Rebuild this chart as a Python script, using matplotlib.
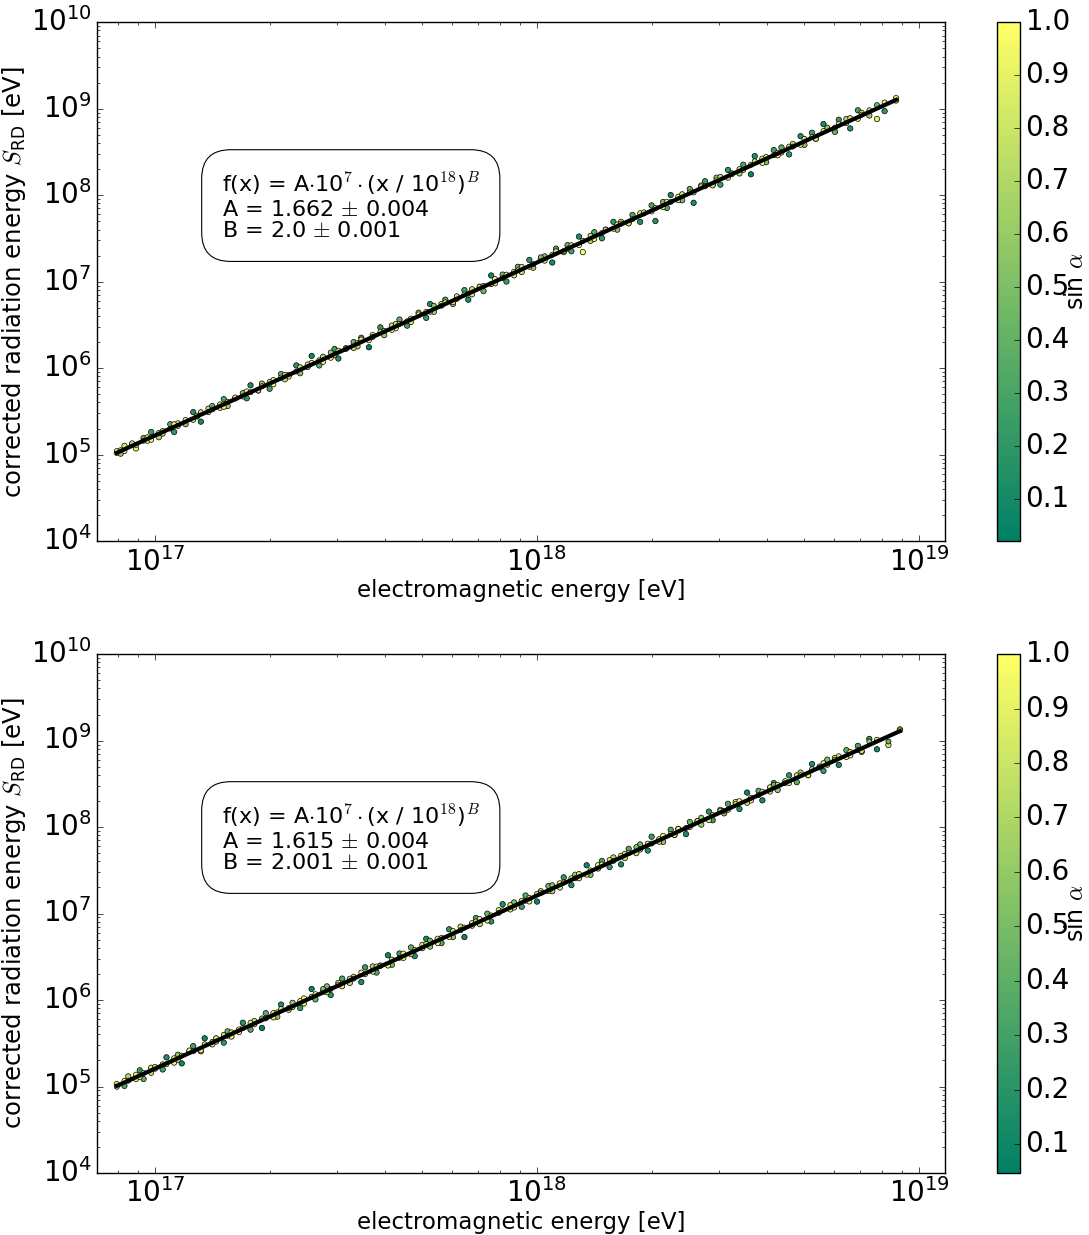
import numpy as np
import matplotlib
matplotlib.use("Agg")
import matplotlib.pyplot as plt

plt.style.use("classic")
plt.rcParams["figure.facecolor"] = "white"
plt.rcParams["savefig.facecolor"] = "white"
plt.rcParams["font.family"] = "DejaVu Sans"

# fit parameters shown in the boxes
fit_A = [1.662, 1.615]
fit_A_err = [0.004, 0.004]
fit_B = [2.0, 2.001]
fit_B_err = [0.001, 0.001]
fit_B_txt = ["2.0", "2.001"]

# top panel: log10(electromagnetic energy), residual to fit in dex, sin(alpha)
logE_top = [
    16.90, 16.91, 16.92, 16.94, 16.95, 16.97, 16.98, 16.99, 17.01, 17.02,
    17.04, 17.05, 17.06, 17.08, 17.10, 17.11, 17.12, 17.14, 17.15, 17.17,
    17.18, 17.19, 17.21, 17.23, 17.24, 17.25, 17.27, 17.28, 17.30, 17.31,
    17.33, 17.34, 17.35, 17.37, 17.38, 17.40, 17.41, 17.43, 17.44, 17.46,
    17.47, 17.48, 17.50, 17.52, 17.53, 17.54, 17.56, 17.57, 17.59, 17.60,
    17.62, 17.63, 17.64, 17.66, 17.67, 17.69, 17.71, 17.72, 17.73, 17.75,
    17.76, 17.78, 17.79, 17.81, 17.82, 17.83, 17.85, 17.86, 17.88, 17.89,
    17.91, 17.92, 17.94, 17.95, 17.96, 17.98, 17.99, 18.01, 18.02, 18.04,
    18.05, 18.07, 18.08, 18.09, 18.11, 18.12, 18.14, 18.15, 18.17, 18.18,
    18.20, 18.21, 18.22, 18.24, 18.25, 18.27, 18.28, 18.30, 18.31, 18.33,
    18.34, 18.35, 18.37, 18.38, 18.40, 18.41, 18.43, 18.44, 18.46, 18.47,
    18.48, 18.50, 18.51, 18.53, 18.54, 18.56, 18.57, 18.59, 18.60, 18.62,
    18.63, 18.64, 18.66, 18.67, 18.69, 18.70, 18.72, 18.73, 18.75, 18.76,
    18.78, 18.79, 18.81, 18.82, 18.84, 18.85, 18.87, 18.89, 18.91, 18.94,
]
# wider-scattered events
resid_top = [
    0.00, -0.03, 0.04, 0.02, -0.05, 0.03, -0.02, 0.06, -0.04, 0.01,
    0.05, -0.06, 0.02, -0.03, 0.07, 0.00, -0.08, 0.03, 0.04, -0.02,
    0.06, -0.04, 0.01, 0.03, -0.05, 0.08, -0.02, 0.04, -0.06, 0.02,
    0.05, -0.03, 0.00, 0.07, -0.04, 0.02, 0.10, -0.05, 0.03, -0.02,
    0.06, -0.07, 0.01, 0.04, -0.03, 0.05, -0.10, 0.02, 0.07, -0.04,
    0.03, -0.02, 0.06, -0.05, 0.01, 0.04, -0.06, 0.08, -0.03, 0.02,
    0.05, -0.04, 0.00, 0.06, -0.07, 0.03, 0.02, -0.05, 0.09, -0.02,
    0.04, -0.06, 0.01, 0.05, -0.03, 0.07, -0.04, 0.02, 0.03, -0.08,
    0.06, -0.02, 0.04, -0.05, 0.08, -0.12, -0.03, 0.05, -0.06, 0.02,
    0.07, -0.04, 0.03, -0.02, 0.05, -0.07, 0.01, 0.06, -0.14, 0.04,
    -0.05, 0.08, 0.02, -0.04, 0.05, -0.13, 0.03, 0.06, -0.02, 0.04,
    -0.06, 0.07, 0.01, -0.03, 0.05, -0.10, 0.09, 0.02, -0.04, 0.06,
    -0.02, 0.05, -0.07, 0.03, 0.08, -0.04, 0.06, -0.03, 0.10, 0.02,
    -0.05, 0.07, 0.04, -0.09, 0.08, 0.03, -0.04, -0.12, -0.07, 0.02,
]
sina_top = [
    0.95, 0.60, 0.85, 0.30, 0.90, 0.45, 0.98, 0.25, 0.70, 0.88,
    0.35, 0.20, 0.92, 0.55, 0.15, 0.99, 0.10, 0.75, 0.40, 0.93,
    0.30, 0.65, 0.97, 0.50, 0.22, 0.12, 0.85, 0.60, 0.28, 0.95,
    0.40, 0.80, 0.99, 0.18, 0.55, 0.90, 0.08, 0.35, 0.70, 0.96,
    0.25, 0.15, 0.94, 0.45, 0.75, 0.30, 0.02, 0.88, 0.20, 0.60,
    0.82, 0.97, 0.38, 0.28, 0.99, 0.50, 0.22, 0.12, 0.72, 0.91,
    0.33, 0.58, 0.96, 0.26, 0.14, 0.80, 0.93, 0.42, 0.09, 0.87,
    0.48, 0.24, 0.98, 0.36, 0.78, 0.17, 0.62, 0.95, 0.52, 0.11,
    0.30, 0.90, 0.44, 0.27, 0.13, 0.97, 0.74, 0.35, 0.21, 0.89,
    0.19, 0.56, 0.84, 0.94, 0.32, 0.16, 0.99, 0.29, 0.15, 0.46,
    0.34, 0.10, 0.92, 0.50, 0.40, 0.12, 0.86, 0.25, 0.96, 0.60,
    0.23, 0.18, 0.97, 0.66, 0.31, 0.08, 0.14, 0.88, 0.52, 0.27,
    0.91, 0.38, 0.20, 0.79, 0.15, 0.55, 0.28, 0.83, 0.11, 0.98,
    0.42, 0.22, 0.70, 0.16, 0.26, 0.93, 0.60, 0.90, 0.19, 0.95,
]
# events close to the fit line
resid_top2 = [
    0.02, 0.01, -0.02, 0.03, -0.01, 0.00, 0.02, -0.03, 0.01, -0.02,
    0.00, 0.03, -0.01, 0.02, -0.02, 0.01, 0.03, -0.01, 0.00, 0.02,
    -0.03, 0.01, 0.02, -0.01, 0.03, 0.00, -0.02, 0.01, 0.02, -0.03,
    0.01, 0.02, -0.02, 0.00, 0.03, -0.01, 0.02, 0.01, -0.03, 0.04,
    -0.01, 0.02, 0.00, -0.03, 0.01, 0.03, -0.02, 0.00, 0.02, 0.01,
    -0.02, 0.03, 0.01, 0.00, -0.03, 0.02, 0.01, -0.01, 0.04, 0.00,
    0.02, -0.02, 0.03, 0.01, 0.00, -0.03, 0.02, 0.01, -0.01, 0.03,
    0.00, 0.02, -0.03, 0.01, 0.03, -0.01, 0.00, 0.04, -0.02, 0.01,
    0.03, -0.01, 0.00, 0.02, -0.02, 0.01, 0.03, -0.03, 0.00, 0.02,
    -0.01, 0.02, 0.01, -0.03, 0.00, 0.03, 0.02, -0.01, 0.01, -0.02,
    0.02, 0.00, -0.02, 0.03, 0.01, -0.01, 0.02, 0.00, -0.03, 0.01,
    0.03, -0.02, 0.00, 0.02, -0.01, 0.01, 0.03, -0.03, 0.02, 0.00,
    0.01, -0.01, 0.02, 0.00, -0.02, 0.03, 0.01, -0.03, 0.02, 0.04,
    0.00, 0.02, -0.01, 0.03, -0.02, 0.01, 0.02, 0.04, 0.03, -0.01,
]
sina_top2 = [
    0.97, 0.88, 0.93, 0.80, 0.99, 0.91, 0.85, 0.95, 1.00, 0.78,
    0.90, 0.96, 0.82, 0.99, 0.87, 0.93, 0.76, 0.98, 0.92, 0.84,
    0.95, 0.89, 0.99, 0.81, 0.94, 0.97, 0.86, 0.91, 0.79, 0.98,
    0.92, 0.85, 0.96, 0.99, 0.83, 0.90, 0.97, 0.88, 0.94, 0.60,
    0.99, 0.87, 0.93, 0.80, 0.96, 0.91, 0.98, 0.84, 0.95, 0.89,
    0.94, 0.82, 0.99, 0.90, 0.86, 0.97, 0.92, 0.78, 0.55, 0.96,
    0.88, 0.99, 0.83, 0.95, 0.91, 0.87, 0.98, 0.93, 0.80, 0.97,
    0.96, 0.90, 0.85, 0.99, 0.82, 0.94, 0.98, 0.50, 0.89, 0.92,
    0.84, 0.97, 0.93, 0.88, 0.99, 0.91, 0.79, 0.95, 0.98, 0.86,
    0.99, 0.89, 0.94, 0.81, 0.97, 0.85, 0.92, 0.98, 0.90, 0.87,
    0.93, 0.98, 0.86, 0.80, 0.96, 0.99, 0.88, 0.94, 0.83, 0.97,
    0.79, 0.91, 0.99, 0.87, 0.95, 0.92, 0.84, 0.97, 0.89, 0.98,
    0.96, 0.85, 0.93, 0.99, 0.88, 0.81, 0.97, 0.90, 0.94, 0.58,
    0.99, 0.92, 0.87, 0.83, 0.96, 0.94, 0.89, 0.45, 0.98, 0.91,
]

# bottom panel
logE_bot = [
    16.90, 16.92, 16.93, 16.95, 16.96, 16.97, 16.99, 17.00, 17.02, 17.03,
    17.05, 17.06, 17.07, 17.09, 17.10, 17.12, 17.13, 17.15, 17.16, 17.18,
    17.19, 17.20, 17.22, 17.23, 17.25, 17.26, 17.28, 17.29, 17.31, 17.32,
    17.33, 17.35, 17.36, 17.38, 17.39, 17.41, 17.42, 17.44, 17.45, 17.46,
    17.48, 17.49, 17.51, 17.52, 17.54, 17.55, 17.57, 17.58, 17.59, 17.61,
    17.62, 17.64, 17.65, 17.67, 17.68, 17.70, 17.71, 17.72, 17.74, 17.75,
    17.77, 17.78, 17.80, 17.81, 17.83, 17.84, 17.85, 17.87, 17.88, 17.90,
    17.91, 17.93, 17.94, 17.96, 17.97, 17.98, 18.00, 18.01, 18.03, 18.04,
    18.06, 18.07, 18.09, 18.10, 18.11, 18.13, 18.14, 18.16, 18.17, 18.19,
    18.20, 18.22, 18.23, 18.24, 18.26, 18.27, 18.29, 18.30, 18.32, 18.33,
    18.35, 18.36, 18.37, 18.39, 18.40, 18.42, 18.43, 18.45, 18.46, 18.48,
    18.49, 18.50, 18.52, 18.53, 18.55, 18.56, 18.58, 18.59, 18.61, 18.62,
    18.63, 18.65, 18.66, 18.68, 18.69, 18.71, 18.72, 18.74, 18.75, 18.76,
    18.78, 18.79, 18.81, 18.82, 18.84, 18.85, 18.87, 18.89, 18.92, 18.95,
]
resid_bot = [
    0.02, -0.04, 0.05, -0.02, 0.06, -0.06, 0.03, 0.00, -0.05, 0.07,
    -0.03, 0.04, -0.08, 0.02, 0.06, -0.04, 0.09, -0.02, 0.03, -0.06,
    0.05, -0.03, 0.01, 0.07, -0.05, 0.03, -0.09, 0.06, 0.02, -0.04,
    0.08, -0.02, 0.04, -0.06, 0.03, 0.10, -0.04, 0.01, 0.05, -0.07,
    0.03, 0.06, -0.03, 0.02, -0.08, 0.07, 0.04, -0.05, 0.01, 0.09,
    -0.04, 0.05, -0.02, 0.06, -0.06, 0.03, 0.08, -0.03, 0.02, -0.05,
    0.07, -0.04, 0.04, -0.10, 0.02, 0.06, -0.03, 0.05, -0.06, 0.03,
    0.08, -0.02, 0.04, -0.05, 0.06, 0.01, -0.07, 0.03, 0.05, -0.03,
    0.02, 0.07, -0.06, 0.04, -0.02, 0.09, -0.04, 0.03, 0.06, -0.05,
    0.04, -0.08, 0.02, 0.06, -0.03, 0.05, -0.06, 0.08, 0.01, -0.04,
    0.06, -0.02, 0.03, -0.07, 0.05, 0.02, -0.04, 0.07, -0.05, 0.03,
    -0.03, 0.06, 0.04, -0.06, 0.09, -0.02, 0.05, -0.08, 0.03, 0.06,
    -0.04, 0.02, 0.07, -0.05, 0.04, -0.03, 0.08, 0.01, -0.06, 0.05,
    0.03, -0.07, 0.06, -0.02, 0.05, -0.04, 0.07, -0.09, -0.10, 0.02,
]
sina_bot = [
    0.90, 0.35, 0.70, 0.96, 0.25, 0.40, 0.85, 0.99, 0.30, 0.18,
    0.93, 0.55, 0.12, 0.88, 0.28, 0.62, 0.10, 0.97, 0.78, 0.22,
    0.45, 0.92, 0.99, 0.20, 0.33, 0.80, 0.047, 0.38, 0.94, 0.58,
    0.15, 0.87, 0.60, 0.26, 0.95, 0.08, 0.42, 0.98, 0.50, 0.20,
    0.91, 0.32, 0.74, 0.97, 0.14, 0.24, 0.68, 0.36, 0.99, 0.11,
    0.48, 0.29, 0.95, 0.40, 0.17, 0.86, 0.13, 0.63, 0.92, 0.34,
    0.21, 0.57, 0.82, 0.09, 0.96, 0.30, 0.76, 0.44, 0.19, 0.89,
    0.16, 0.93, 0.52, 0.27, 0.38, 0.99, 0.12, 0.84, 0.46, 0.70,
    0.97, 0.23, 0.15, 0.66, 0.90, 0.10, 0.54, 0.94, 0.31, 0.25,
    0.72, 0.14, 0.98, 0.36, 0.81, 0.47, 0.18, 0.26, 0.95, 0.59,
    0.33, 0.91, 0.77, 0.13, 0.42, 0.96, 0.64, 0.20, 0.28, 0.87,
    0.55, 0.35, 0.90, 0.17, 0.09, 0.99, 0.43, 0.12, 0.83, 0.30,
    0.61, 0.94, 0.22, 0.37, 0.75, 0.88, 0.16, 0.98, 0.25, 0.50,
    0.93, 0.14, 0.40, 0.97, 0.29, 0.68, 0.21, 0.11, 0.85, 0.99,
]
resid_bot2 = [
    -0.01, 0.02, 0.00, 0.03, -0.02, 0.01, -0.03, 0.02, 0.01, -0.01,
    0.02, -0.02, 0.01, 0.03, 0.00, -0.03, 0.02, 0.01, -0.01, 0.03,
    0.00, 0.02, -0.02, 0.01, 0.03, -0.01, 0.02, 0.00, -0.03, 0.01,
    0.03, 0.00, -0.01, 0.02, -0.03, 0.01, 0.02, 0.04, -0.02, 0.00,
    0.01, -0.03, 0.02, 0.00, 0.03, -0.01, -0.02, 0.02, 0.01, -0.03,
    0.02, 0.00, 0.03, -0.02, 0.01, -0.01, 0.02, 0.04, -0.03, 0.01,
    -0.02, 0.03, 0.00, 0.01, -0.01, 0.02, 0.03, -0.03, 0.01, 0.00,
    0.01, 0.03, -0.02, 0.02, 0.00, -0.03, 0.02, 0.01, -0.01, 0.04,
    -0.03, 0.01, 0.02, 0.00, 0.03, -0.02, 0.01, -0.01, 0.02, 0.03,
    0.00, 0.02, -0.03, 0.01, 0.04, -0.01, 0.02, 0.00, -0.02, 0.03,
    0.01, -0.02, 0.03, 0.00, -0.01, 0.02, 0.04, -0.03, 0.01, 0.02,
    0.00, -0.01, 0.02, 0.03, -0.03, 0.01, 0.00, 0.02, -0.02, 0.04,
    0.02, 0.00, -0.02, 0.03, 0.01, -0.03, 0.02, 0.00, 0.03, -0.01,
    0.01, 0.03, -0.02, 0.02, 0.00, -0.03, 0.04, 0.02, -0.06, 0.01,
]
sina_bot2 = [
    0.91, 0.98, 0.84, 0.95, 0.89, 0.99, 0.82, 0.93, 0.97, 0.87,
    0.96, 0.80, 0.92, 0.99, 0.86, 0.94, 0.90, 0.77, 0.98, 0.85,
    0.99, 0.88, 0.95, 0.83, 0.91, 0.97, 0.60, 0.94, 0.89, 1.00,
    0.82, 0.96, 0.90, 0.99, 0.87, 0.93, 0.98, 0.52, 0.85, 0.95,
    0.97, 0.89, 0.81, 0.94, 0.99, 0.86, 0.92, 0.96, 0.84, 0.90,
    0.88, 0.99, 0.93, 0.80, 0.97, 0.91, 0.85, 0.48, 0.95, 0.98,
    0.92, 0.84, 0.99, 0.89, 0.96, 0.83, 0.94, 0.90, 0.98, 0.87,
    0.99, 0.86, 0.91, 0.97, 0.81, 0.93, 0.88, 0.95, 0.99, 0.57,
    0.85, 0.98, 0.90, 0.94, 0.87, 0.92, 0.99, 0.83, 0.96, 0.89,
    0.97, 0.91, 0.82, 0.99, 0.55, 0.88, 0.95, 0.93, 0.86, 0.98,
    0.90, 0.94, 0.99, 0.85, 0.97, 0.89, 0.62, 0.92, 0.98, 0.84,
    0.96, 0.88, 0.93, 0.99, 0.81, 0.95, 0.90, 0.97, 0.86, 0.50,
    0.89, 0.99, 0.94, 0.87, 0.92, 0.96, 0.83, 0.98, 0.91, 0.88,
    0.95, 0.86, 0.99, 0.90, 0.97, 0.84, 0.60, 0.93, 0.42, 0.98,
]

panels = [
    (logE_top, resid_top, sina_top, resid_top2, sina_top2),
    (logE_bot, resid_bot, sina_bot, resid_bot2, sina_bot2),
]
ax_bottoms = [0.5619, 0.0502]

fig = plt.figure(figsize=(10.89, 12.35), dpi=100)

for i, (logE, resid, sina, resid2, sina2) in enumerate(panels):
    ax = fig.add_axes([0.0891, ax_bottoms[i], 0.7787, 0.4202])
    cax = fig.add_axes([0.9155, ax_bottoms[i], 0.0211, 0.4202])

    A, B = fit_A[i], fit_B[i]
    e_em = 10 ** np.array(logE)
    fit = A * 1e7 * (e_em / 1e18) ** B
    vmin = min(min(sina), min(sina2))
    vmax = max(max(sina), max(sina2))

    sc = ax.scatter(e_em, fit * 10 ** np.array(resid), c=sina, cmap="summer",
                    vmin=vmin, vmax=vmax, s=15, edgecolors="k",
                    linewidths=0.5, zorder=2)
    ax.scatter(e_em, fit * 10 ** np.array(resid2), c=sina2, cmap="summer",
               vmin=vmin, vmax=vmax, s=13, edgecolors="k",
               linewidths=0.5, zorder=2)
    ax.plot(e_em, fit, "k-", lw=3, zorder=3)

    ax.set_xscale("log")
    ax.set_yscale("log")
    ax.set_xlim(7.05e16, 1.17e19)
    ax.set_ylim(1e4, 1e10)
    ax.tick_params(labelsize=20, which="both", direction="in")
    ax.set_xlabel("electromagnetic energy [eV]", fontsize=16.5, labelpad=2)
    ax.set_ylabel(r"corrected radiation energy $S_{\mathdefault{RD}}$ [eV]",
                  fontsize=17.5, labelpad=2)

    txt = ("f(x) = A$\\cdot$10$^7\\cdot$(x / 10$^{18}$)$^B$\n"
           "A = %.3f $\\pm$ %.3f\nB = %s $\\pm$ %.3f"
           % (A, fit_A_err[i], fit_B_txt[i], fit_B_err[i]))
    ax.text(0.147, 0.645, txt, transform=ax.transAxes, fontsize=16,
            va="center", ha="left", linespacing=1.1,
            bbox=dict(boxstyle="round,pad=0.9,rounding_size=1.3",
                      facecolor="white", edgecolor="k", lw=0.8))

    cb = fig.colorbar(sc, cax=cax)
    cb.set_ticks([0.1, 0.2, 0.3, 0.4, 0.5, 0.6, 0.7, 0.8, 0.9, 1.0])
    cb.ax.tick_params(labelsize=20)
    cb.set_label(r"sin $\alpha$", fontsize=17, labelpad=-4)

fig.savefig("out.png", dpi=100)
